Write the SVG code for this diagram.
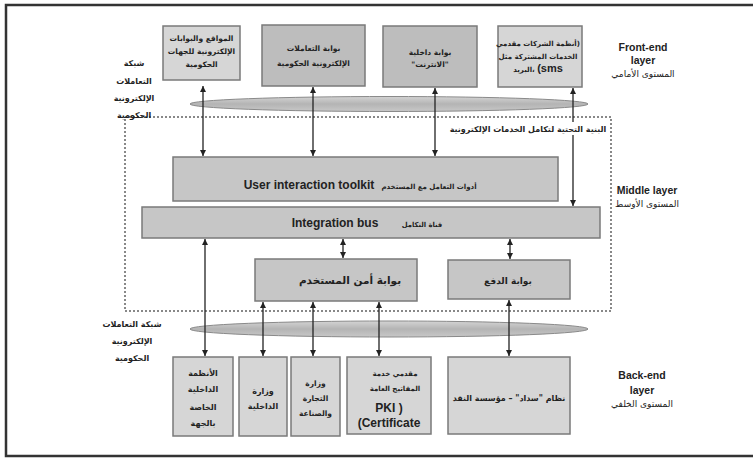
<svg xmlns="http://www.w3.org/2000/svg" width="753" height="459" viewBox="0 0 753 459">
<style>
.bl{fill:#d6d6d6;stroke:#7a7a7a;stroke-width:1.5}
.bd{fill:#bdbdbd;stroke:#7a7a7a;stroke-width:1.5}
.bm{fill:#c6c6c6;stroke:#7a7a7a;stroke-width:1.5}
.ar{font-family:"DejaVu Sans",sans-serif;font-weight:bold;font-size:8px;fill:#222;text-anchor:middle}
.s7{font-size:7.5px}
.s7b{font-size:7px}
.s9{font-size:9px}
.en{font-family:"Liberation Sans",Arial,sans-serif;font-weight:bold;font-size:12px;fill:#222;text-anchor:middle}
.lay{font-family:"Liberation Sans",Arial,sans-serif;font-weight:bold;font-size:10.5px;fill:#222;text-anchor:middle}
.lar{font-family:"DejaVu Sans",sans-serif;font-size:9px;fill:#222;text-anchor:middle}
.conn line{stroke:#222;stroke-width:1.3;marker-start:url(#ah);marker-end:url(#ah)}
.ell{fill:url(#eg);stroke:#8a8a8a;stroke-width:1}
</style>
<defs>
<marker id="ah" viewBox="0 0 6 6" refX="6" refY="3" markerWidth="6" markerHeight="6" markerUnits="userSpaceOnUse" orient="auto-start-reverse">
<path d="M0,0 L6,3 L0,6 z" fill="#222"/>
</marker>
<linearGradient id="eg" x1="0" y1="0" x2="0" y2="1">
<stop offset="0" stop-color="#d4d4d4"/>
<stop offset="0.5" stop-color="#b4b4b4"/>
<stop offset="1" stop-color="#c8c8c8"/>
</linearGradient>
</defs>
<rect x="0" y="0" width="753" height="459" fill="#fff"/>
<path d="M753,5 H6 V456 H753" fill="none" stroke="#333" stroke-width="2.5"/>

<!-- infrastructure dotted boundary -->
<rect x="125" y="117" width="486" height="194" fill="none" stroke="#888" stroke-width="2" stroke-dasharray="2,2"/>

<!-- network ellipses -->
<ellipse class="ell" cx="389" cy="104" rx="199" ry="7.5"/>
<ellipse class="ell" cx="389" cy="329" rx="199" ry="8"/>

<!-- front-end boxes -->
<g id="n-portals">
<rect class="bl" x="163" y="26" width="77" height="54"/>
<text class="ar s7" direction="rtl" x="201.5" y="41">المواقع والبوابات</text>
<text class="ar s7" direction="rtl" x="201.5" y="54">الإلكترونية للجهات</text>
<text class="ar s7" direction="rtl" x="201.5" y="67">الحكومية</text>
</g>
<g id="n-gov-portal">
<rect class="bd" x="262" y="25" width="103" height="61"/>
<text class="ar s7" direction="rtl" x="313.5" y="51">بوابة التعاملات</text>
<text class="ar s7" direction="rtl" x="313.5" y="66">الإلكترونية الحكومية</text>
</g>
<g id="n-intranet">
<rect class="bd" x="383" y="26" width="94" height="61"/>
<text class="ar s7" direction="rtl" x="430" y="55">بوابة داخلية</text>
<text class="ar s7" direction="rtl" x="430" y="67">"الانترنت"</text>
</g>
<g id="n-companies">
<rect class="bl" x="498" y="26" width="84" height="61"/>
<text class="ar s7b" direction="rtl" x="538" y="46">(أنظمة الشركات مقدمي</text>
<text class="ar s7b" direction="rtl" x="538" y="59">الخدمات المشتركة مثل</text>
<text class="ar s7b" x="538" y="72">البريد، <tspan class="en" style="font-size:11px">(sms</tspan></text>
</g>

<!-- middle layer -->
<g id="n-toolkit">
<rect class="bm" x="173" y="157" width="385" height="44"/>
<text class="en" x="309" y="189">User interaction toolkit</text>
<text class="ar s7b" direction="rtl" x="429" y="189">أدوات التعامل مع المستخدم</text>
</g>
<g id="n-bus">
<rect class="bm" x="142" y="207" width="458" height="31"/>
<text class="en" x="335" y="227">Integration bus</text>
<text class="ar" direction="rtl" x="422" y="227" style="font-size:6.8px">قناة التكامل</text>
</g>
<g id="n-security">
<rect class="bm" x="255" y="259" width="162" height="42"/>
<text class="ar" direction="rtl" x="350" y="284" style="font-size:10.5px">بوابة أمن المستخدم</text>
</g>
<g id="n-payment">
<rect class="bm" x="448" y="260" width="122" height="39"/>
<text class="ar s9" direction="rtl" x="508" y="284">بوابة الدفع</text>
</g>

<!-- back-end boxes -->
<g id="n-internal">
<rect class="bl" x="173" y="357" width="60" height="79"/>
<text class="ar" direction="rtl" x="203" y="376">الأنظمة</text>
<text class="ar" direction="rtl" x="203" y="392">الداخلية</text>
<text class="ar" direction="rtl" x="203" y="410">الخاصة</text>
<text class="ar" direction="rtl" x="203" y="426">بالجهة</text>
</g>
<g id="n-interior">
<rect class="bl" x="239" y="357" width="48" height="79"/>
<text class="ar" direction="rtl" x="263" y="394">وزارة</text>
<text class="ar" direction="rtl" x="263" y="409">الداخلية</text>
</g>
<g id="n-commerce">
<rect class="bl" x="291" y="357" width="49" height="79"/>
<text class="ar s7" direction="rtl" x="315.5" y="386">وزارة</text>
<text class="ar s7" direction="rtl" x="315.5" y="401">التجارة</text>
<text class="ar s7" direction="rtl" x="315.5" y="416">والصناعة</text>
</g>
<g id="n-pki">
<rect class="bl" x="347" y="357" width="84" height="77"/>
<text class="ar s7b" direction="rtl" x="395" y="376">مقدمي خدمة</text>
<text class="ar s7b" direction="rtl" x="395" y="391">المفاتيح العامة</text>
<text class="en" x="389" y="412">PKI )</text>
<text class="en" x="389" y="427">(Certificate</text>
</g>
<g id="n-sadad">
<rect class="bl" x="448" y="357" width="122" height="77"/>
<text class="ar" direction="rtl" x="509" y="401">نظام "سداد" – مؤسسة النقد</text>
</g>

<!-- connectors -->
<g class="conn">
<line x1="203" y1="86" x2="203" y2="156"/>
<line x1="313" y1="87" x2="313" y2="156"/>
<line x1="435" y1="88" x2="435" y2="156"/>
<line x1="573" y1="88" x2="573" y2="206"/>
<line x1="205" y1="239" x2="205" y2="356"/>
<line x1="343" y1="239" x2="343" y2="258"/>
<line x1="510" y1="239" x2="510" y2="259"/>
<line x1="263" y1="302" x2="263" y2="356"/>
<line x1="313" y1="302" x2="313" y2="356"/>
<line x1="379" y1="302" x2="379" y2="356"/>
<line x1="509" y1="300" x2="509" y2="356"/>
</g>

<!-- labels -->
<g id="lbl-infra">
<rect x="448" y="122" width="161" height="13" fill="#fff"/>
<text class="ar" direction="rtl" x="528" y="132">البنية التحتية لتكامل الخدمات الإلكترونية</text>
</g>
<g id="lbl-net-top">
<text class="ar" direction="rtl" x="134" y="66">شبكة</text>
<text class="ar" direction="rtl" x="134" y="84">التعاملات</text>
<text class="ar" direction="rtl" x="134" y="101">الإلكترونية</text>
<text class="ar" direction="rtl" x="134" y="118">الحكومية</text>
</g>
<g id="lbl-net-bottom">
<text class="ar" direction="rtl" x="132" y="327">شبكة التعاملات</text>
<text class="ar" direction="rtl" x="132" y="344">الإلكترونية</text>
<text class="ar" direction="rtl" x="132" y="361">الحكومية</text>
</g>
<g id="lbl-front">
<text class="lay" x="643" y="51">Front-end</text>
<text class="lay" x="643" y="64">layer</text>
<text class="lar" direction="rtl" x="643" y="77">المستوى الأمامي</text>
</g>
<g id="lbl-middle">
<text class="lay" x="647" y="194">Middle layer</text>
<text class="lar" direction="rtl" x="647" y="207">المستوى الأوسط</text>
</g>
<g id="lbl-back">
<text class="lay" x="642" y="379">Back-end</text>
<text class="lay" x="642" y="394">layer</text>
<text class="lar" direction="rtl" x="642" y="407">المستوى الخلفي</text>
</g>
</svg>
